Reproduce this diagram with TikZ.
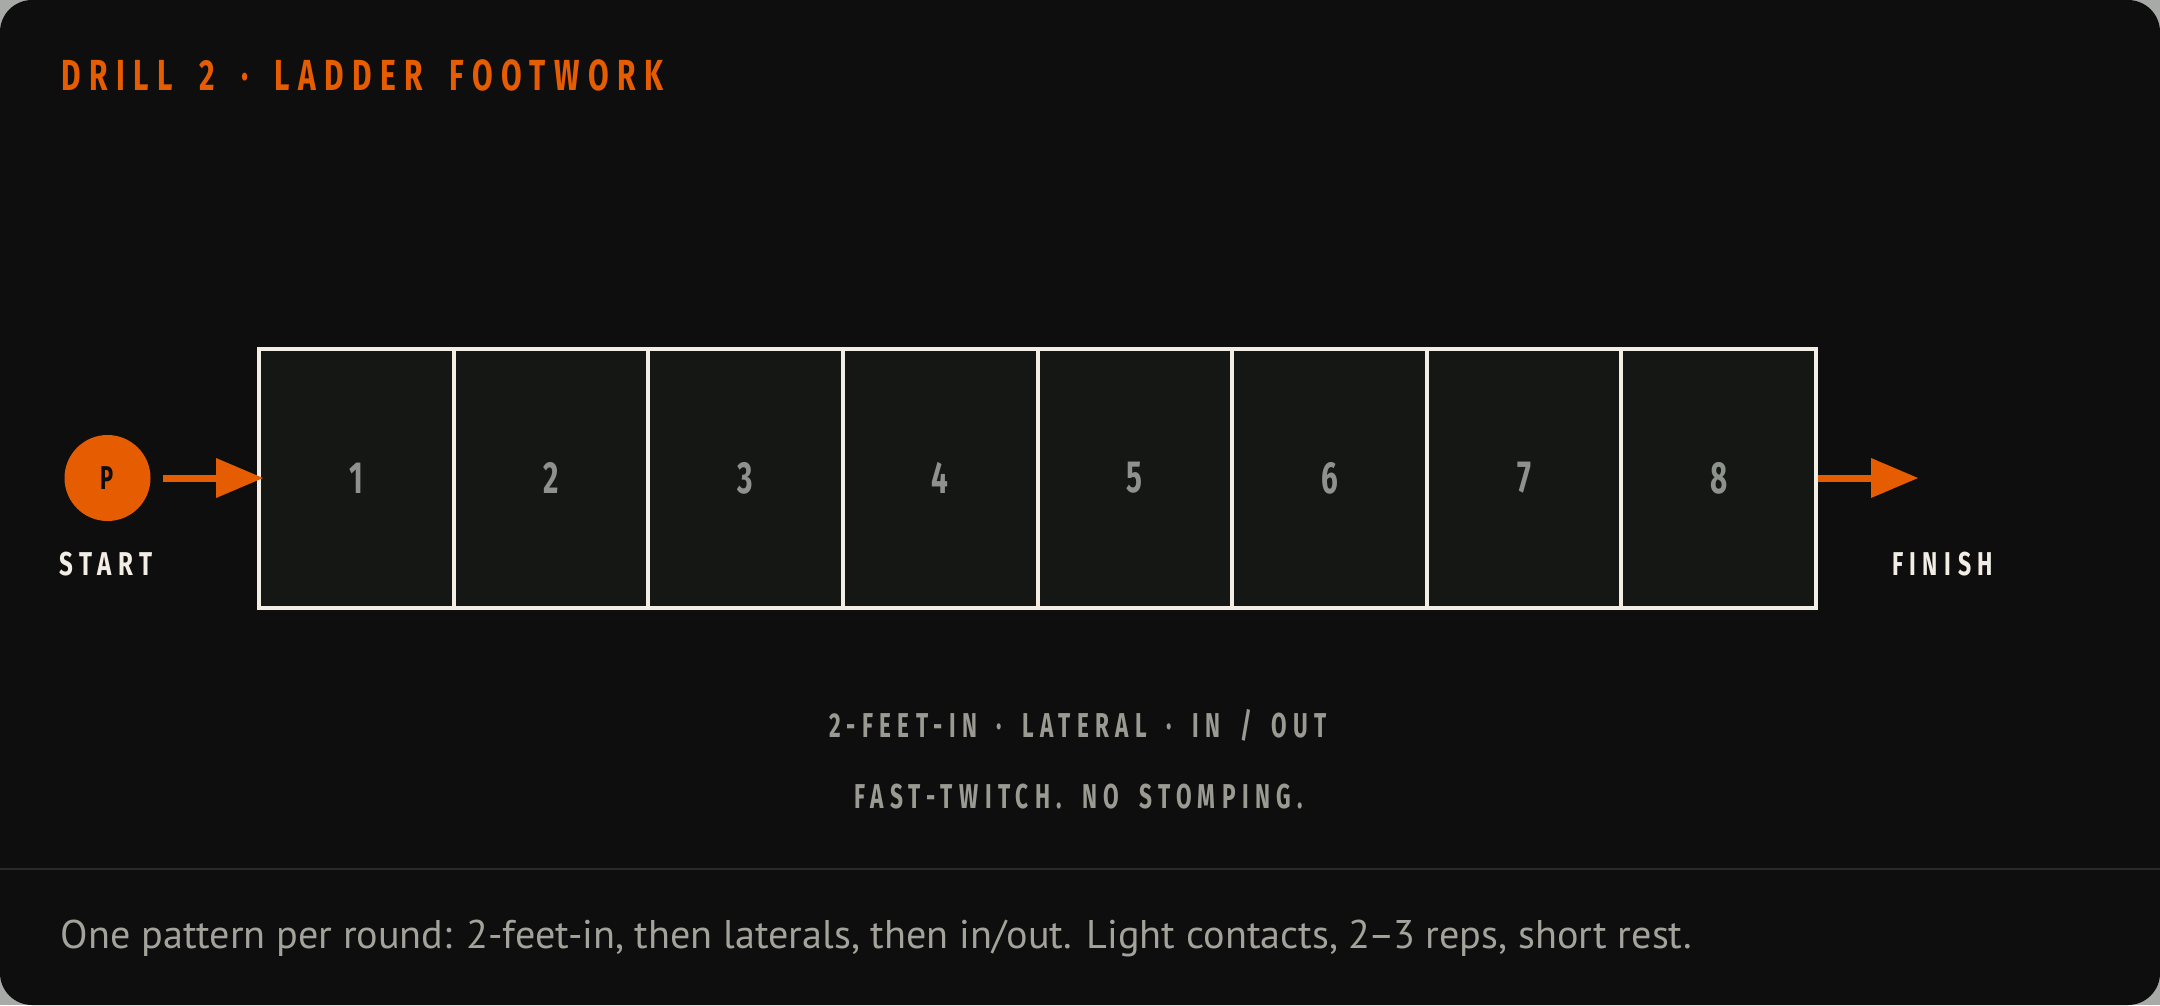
\documentclass[tikz,border=0pt]{standalone}
\usepackage{fontspec}
\usepackage{graphicx}
\usetikzlibrary{arrows.meta}
\setmainfont{PT Sans}
\newfontfamily\condfont[FakeStretch=0.66]{Fira Sans}
\newfontfamily\condsp[FakeStretch=0.6,LetterSpace=17,WordSpace=1.7]{Fira Sans}
\definecolor{outerbg}{HTML}{A8AAA8}
\definecolor{cardbg}{HTML}{0E0E0E}
\definecolor{accent}{HTML}{E65C00}
\definecolor{cream}{HTML}{F2EEE6}
\definecolor{cellbg}{HTML}{151714}
\definecolor{numgray}{HTML}{8E928D}
\definecolor{subgray}{HTML}{9A9A92}
\definecolor{footgray}{HTML}{A3A39B}
\definecolor{sepline}{HTML}{2A2A2A}
\newsavebox\fitbox
\newcommand\fitw[2]{\sbox\fitbox{#2}\pgfmathsetmacro\fitratio{#1/\the\wd\fitbox}\scalebox{\fitratio}[1]{\usebox\fitbox}}
\tikzset{
  cell/.style={draw=cream, line width=4pt, fill=cellbg, minimum width=194.6pt, minimum height=259pt, inner sep=0pt,
    text=numgray, font=\condfont\bfseries\fontsize{45}{45}\selectfont},
  player/.style={circle, fill=accent, minimum size=86pt, inner sep=0pt, text=cardbg,
    font=\condfont\bfseries\fontsize{33}{33}\selectfont},
  flow/.style={draw=accent, line width=7pt, -{Triangle[length=47pt,width=40pt,line width=0pt]}},
  tag/.style={anchor=base, inner sep=0pt, text=cream, font=\condsp\bfseries\fontsize{33}{33}\selectfont},
  sub/.style={anchor=base, inner sep=0pt, text=subgray, font=\condsp\bfseries\fontsize{34.5}{34.5}\selectfont},
}
\begin{document}
\begin{tikzpicture}[x=1pt,y=-1pt]
\useasboundingbox (0,0) rectangle (2160,1005);
\fill[outerbg] (0,0) rectangle (2160,1005);
\fill[cardbg, rounded corners=32pt] (0,0) rectangle (2160,1005);
\draw[sepline, line width=2.5pt] (0,869) -- (2160,869);
\node[anchor=base west, inner sep=0pt, text=accent, font=\condsp\bfseries\fontsize{43.5}{43.5}\selectfont] (title) at (61,90) {\fitw{602}{DRILL 2 · LADDER FOOTWORK}};
\foreach \i in {1,...,8}
  \node[cell] (c\i) at ({259+194.625*(\i-0.5)},478) {\i};
\node[player] (P) at (107.5,478) {P};
\coordinate (fin) at (1918,478);
\draw[flow] ([xshift=12pt]P.east) -- ([xshift=6pt]c1.west);
\draw[flow] (c8.east) -- (fin);
\node[tag] (start) at (106,575) {\fitw{94}{START}};
\node[tag] (finish) at (1942.5,575) {\fitw{101}{FINISH}};
\node[sub] (pattern) at (1078,737) {\fitw{498}{2-FEET-IN · LATERAL · IN / OUT}};
\node[sub] (cue) at (1078.5,808) {\fitw{449}{FAST-TWITCH. NO STOMPING.}};
\node[anchor=base west, inner sep=0pt, text=footgray, font=\fontsize{40}{40}\selectfont] (foot) at (60.6,948) {\fitw{1631}{One pattern per round: 2-feet-in, then laterals, then in/out. Light contacts, 2\kern-2pt–\kern-2pt3 reps, short rest.}};
\end{tikzpicture}
\end{document}
